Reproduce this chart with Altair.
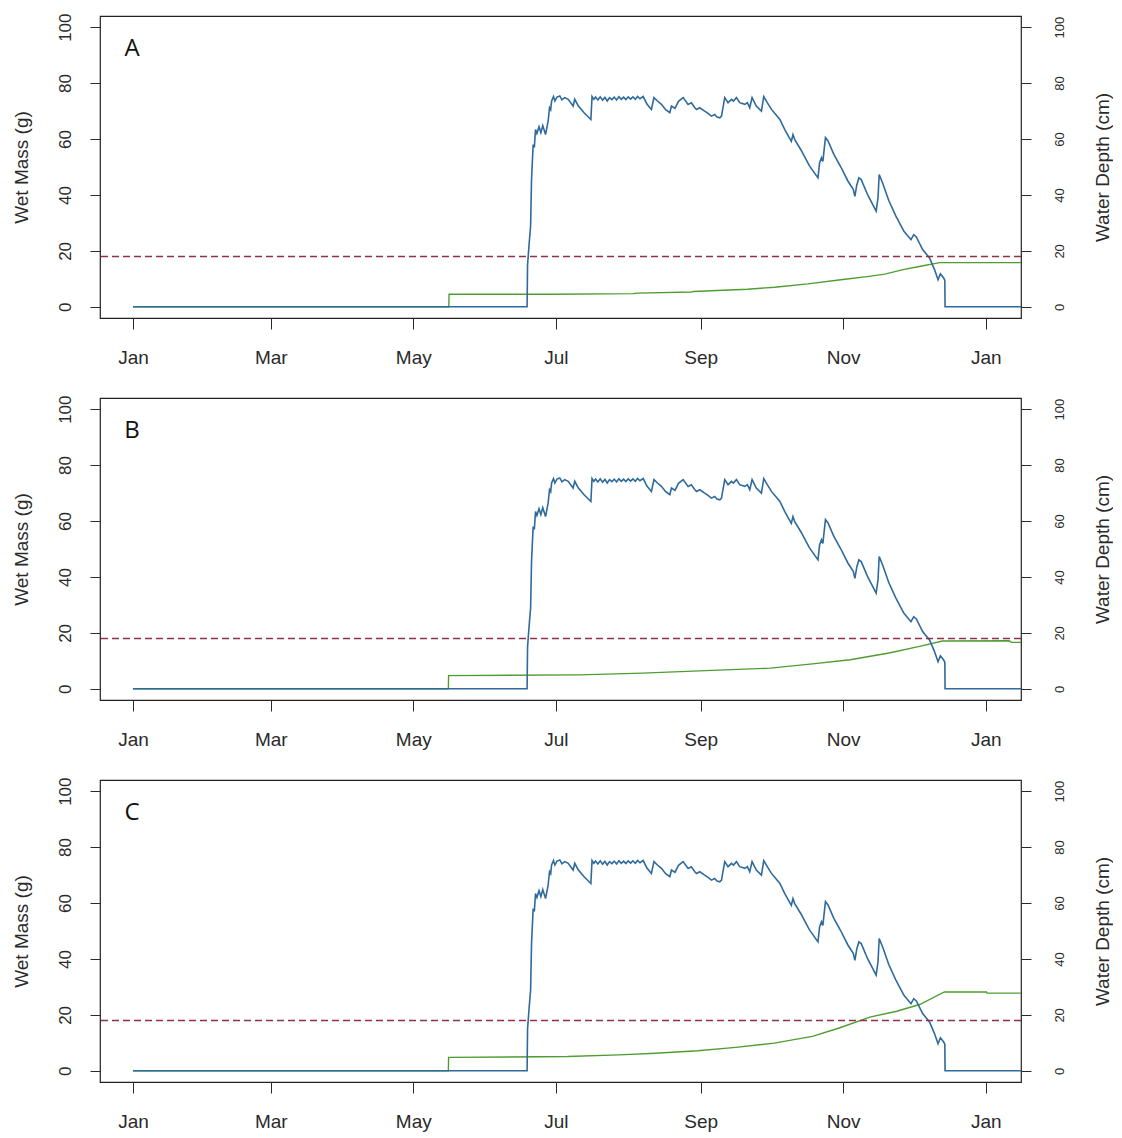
import altair as alt
import pandas as pd

# ---------------- data (x = day of year, 0 = 1 Jan) ----------------
month_ticks = [0, 59, 120, 181, 243, 304, 365]
month_labels = ["Jan", "Mar", "May", "Jul", "Sep", "Nov", "Jan"]
y_ticks = [0, 20, 40, 60, 80, 100]
threshold = [18]
panel_labels = ["A", "B", "C"]

mass_days = [0, 168.7, 168.9, 169.6, 170.2, 170.6, 171.3, 171.8, 172.3, 172.9, 173.8, 174.6,
             175.4, 176.6, 177.7, 178.3, 178.8, 179.2, 180.0, 180.6, 181.5, 182.7, 183.6, 184.8,
             186.3, 188.4, 189.1, 190.5, 193.0, 196.0, 196.5, 197.3, 198.0, 199.0, 200.0, 201.0,
             202.0, 203.0, 204.0, 205.0, 206.0, 207.0, 208.0, 209.0, 210.0, 211.0, 212.0, 213.0,
             214.0, 215.0, 216.0, 217.0, 218.4, 220.0, 221.9, 223.0, 224.5, 226.2, 228.0, 229.8,
             230.5, 232.0, 233.5, 235.5, 237.6, 239.0, 240.5, 241.2, 242.6, 244.7, 246.0, 247.6,
             249.0, 250.0, 251.2, 251.9, 253.3, 254.7, 256.2, 257.0, 258.3, 259.7, 261.9, 263.0,
             264.0, 265.0, 266.8, 269.0, 270.0, 271.5, 273.3, 276.9, 279.0, 281.8, 282.5, 283.2,
             286.0, 289.5, 293.2, 293.9, 294.7, 295.3, 296.4, 297.5, 300.0, 303.0, 306.0, 308.3,
             309.0, 309.8, 310.7, 311.7, 314.5, 318.1, 318.9, 319.4, 321.0, 323.5, 326.5, 330.0,
             333.0, 334.2, 335.3, 338.0, 341.0, 343.0, 344.6, 345.6, 347.0, 347.5, 347.6, 380.1]
mass_vals = [0, 0, 15.0, 22.8, 28.8, 45.5, 58.0, 57.0, 63.4, 62.0, 64.4, 62.3,
             64.8, 61.6, 66.4, 71.2, 70.5, 73.6, 75.2, 73.6, 75.0, 75.4, 74.0, 74.8,
             74.2, 71.8, 74.2, 72.0, 69.5, 67.0, 75.2, 74.2, 75.0, 74.0, 75.1, 73.9,
             74.9, 73.6, 74.8, 74.1, 75.0, 74.0, 75.1, 74.2, 75.0, 74.1, 75.1, 74.3,
             75.1, 74.2, 75.2, 74.4, 75.2, 72.5, 70.6, 74.8, 73.6, 72.4, 70.5, 69.4,
             71.8, 71.0, 73.5, 74.8, 72.4, 73.0, 71.2, 70.6, 71.2, 70.0, 69.3, 68.2,
             68.8, 67.9, 67.6, 68.2, 74.8, 73.0, 74.2, 73.6, 74.8, 73.0, 72.4, 73.0,
             71.2, 74.8, 71.8, 70.0, 75.2, 73.0, 70.6, 67.0, 63.4, 59.2, 61.6, 59.9,
             56.0, 50.5, 46.1, 51.5, 53.3, 52.0, 60.5, 59.3, 54.5, 50.0, 45.0, 42.0,
             39.5, 43.5, 46.1, 45.5, 40.0, 34.2, 39.0, 47.3, 44.0, 38.0, 32.5, 27.0,
             24.0, 25.8, 25.0, 20.5, 17.4, 13.5, 9.7, 11.8, 10.3, 9.5, 0.0, 0.0]

depth_days_A = [0, 135.2, 135.3, 180, 214, 216, 239, 240, 263, 274.7, 288.8, 303, 315,
                321.8, 329.6, 338.2, 345.3, 380.1]
depth_vals_A = [0, 0, 4.5, 4.5, 4.7, 4.9, 5.3, 5.5, 6.3, 7.0, 8.2, 9.7, 10.9,
                11.7, 13.3, 14.7, 15.8, 15.8]

depth_days_B = [0, 135.0, 135.1, 191, 218, 248, 272.8, 290.8, 307, 323.6, 336.7, 346.5,
                375, 376, 380.1]
depth_vals_B = [0, 0, 4.7, 5.0, 5.6, 6.6, 7.4, 8.9, 10.4, 12.8, 15.2, 17.1,
                17.2, 16.6, 16.6]

depth_days_C = [0, 135.0, 135.1, 186, 208, 223.7, 241.7, 258, 274.5, 290.8, 302.3, 315.4,
                326.9, 336.7, 347.3, 365.3, 365.5, 380.1]
depth_vals_C = [0, 0, 4.8, 5.1, 5.7, 6.3, 7.2, 8.4, 9.9, 12.3, 15.3, 19.2,
                21.3, 23.7, 28.2, 28.2, 27.8, 27.8]

depth_series = [(depth_days_A, depth_vals_A), (depth_days_B, depth_vals_B),
                (depth_days_C, depth_vals_C)]

# ---------------- styling ----------------
BLUE = "#2f6a9c"
GREEN = "#4f9d32"
RED = "#8e3249"
FONT = "Liberation Sans"
TXT = "#2a2a2a"

x_domain = [-14.1, 380.1]
y_domain = [-4, 104]

label_expr = "{}[indexof({}, datum.value)]".format(
    "[" + ",".join("'%s'" % m for m in month_labels) + "]",
    "[" + ",".join(str(t) for t in month_ticks) + "]")

x_axis = alt.Axis(values=month_ticks, labelExpr=label_expr, title=None, grid=False,
                  domain=False, tickSize=11, tickColor=TXT, labelPadding=19,
                  labelFontSize=19, labelFont=FONT, labelColor=TXT, labelFlush=False,
                  labelOverlap=False)

left_axis = alt.Axis(orient="left", values=y_ticks, title="Wet Mass (g)", grid=False,
                     domain=False, tickSize=10, tickColor=TXT, labelAngle=270,
                     labelAlign="center", labelBaseline="alphabetic", labelPadding=20,
                     labelFontSize=17, labelFont=FONT, labelColor=TXT,
                     titleFont=FONT, titleFontSize=19, titleFontWeight="normal",
                     titleColor=TXT, titlePadding=25, labelFlush=False)

right_axis = alt.Axis(orient="right", values=y_ticks, title="Water Depth (cm)", grid=False,
                      domain=False, tickSize=10, tickColor=TXT, labelAngle=270,
                      labelAlign="center", labelBaseline="top", labelPadding=22,
                      labelFontSize=13, labelFont=FONT, labelColor=TXT,
                      titleFont=FONT, titleFontSize=19, titleFontWeight="normal",
                      titleColor=TXT, titleAngle=270, titleBaseline="top",
                      titlePadding=27, labelFlush=False)

mass_df = pd.DataFrame({"day": mass_days, "mass": mass_vals,
                        "idx": list(range(len(mass_days)))})
thr_df = pd.DataFrame({"thr": threshold})


def panel(i):
    days, vals = depth_series[i]
    depth_df = pd.DataFrame({"day": days, "depth": vals, "idx": list(range(len(days)))})
    lab_df = pd.DataFrame({"label": [panel_labels[i]]})
    xenc = alt.X("day:Q", scale=alt.Scale(domain=x_domain, nice=False, zero=False), axis=x_axis)
    yscale = alt.Scale(domain=y_domain, nice=False, zero=False)

    green = alt.Chart(depth_df).mark_line(color=GREEN, strokeWidth=1.4).encode(
        x=xenc, y=alt.Y("depth:Q", scale=yscale, axis=right_axis), order="idx:Q")
    blue = alt.Chart(mass_df).mark_line(color=BLUE, strokeWidth=1.6).encode(
        x=xenc, y=alt.Y("mass:Q", scale=yscale, axis=left_axis), order="idx:Q")
    rule = alt.Chart(thr_df).mark_rule(color=RED, strokeWidth=1.3, strokeDash=[7, 4]).encode(
        y=alt.Y("thr:Q", scale=yscale, axis=None))
    label = alt.Chart(lab_df).mark_text(font="Open Sans", fontSize=24, color="#111",
                                        align="center", baseline="middle").encode(
        x=alt.value(32), y=alt.value(33), text="label:N")
    return alt.layer(green, blue, rule, label).resolve_scale(y="independent").properties(
        width=921, height=302)


chart = alt.vconcat(panel(0), panel(1), panel(2), spacing=26).properties(
    background="white",
    padding={"left": 3, "top": 4, "right": 0, "bottom": 0},
).configure_view(stroke="#222", strokeWidth=1.2)

chart.save("out.html", embed_options={"renderer": "svg", "actions": False})
